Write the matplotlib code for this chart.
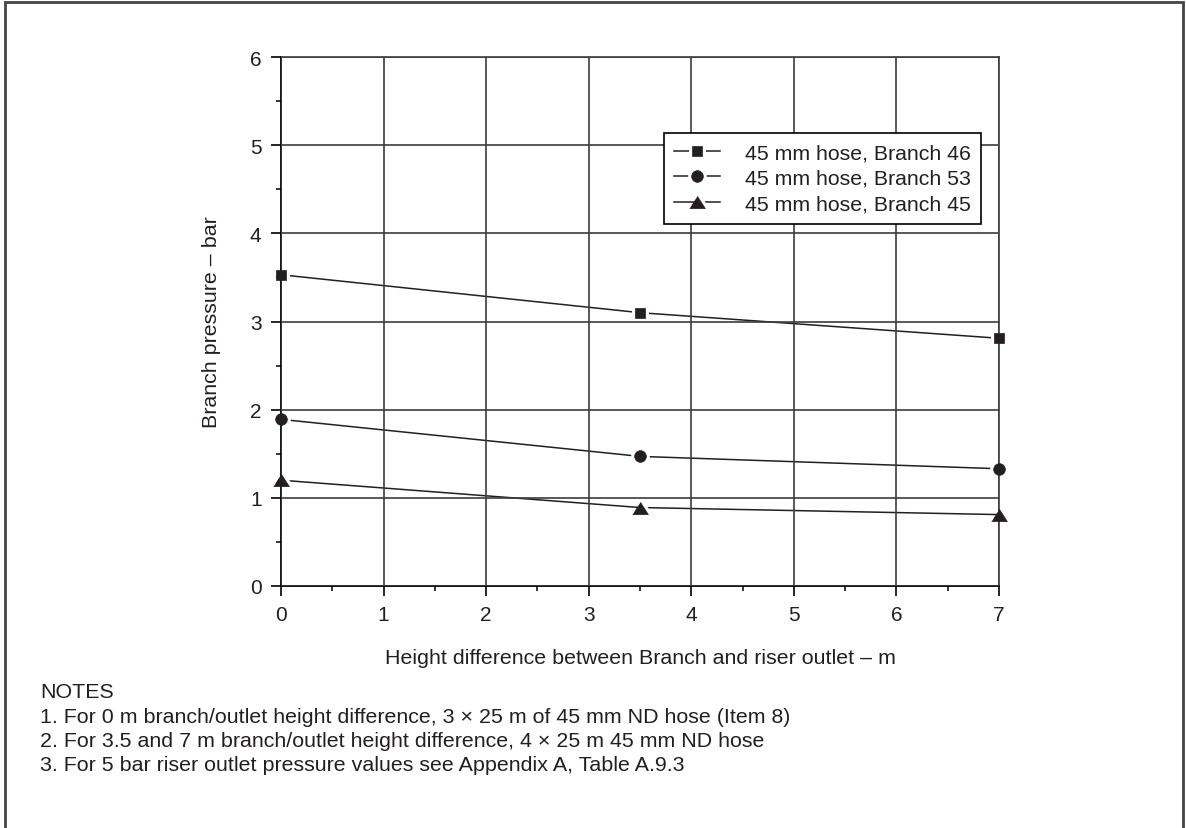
import matplotlib.pyplot as plt
from matplotlib.patches import Rectangle
from matplotlib.ticker import MultipleLocator

# data
height_diff = [0, 3.5, 7]
branch_46 = [3.53, 3.10, 2.81]
branch_53 = [1.89, 1.47, 1.33]
branch_45 = [1.20, 0.89, 0.81]

labels = ['45 mm hose, Branch 46', '45 mm hose, Branch 53', '45 mm hose, Branch 45']
x_ticks = [0, 1, 2, 3, 4, 5, 6, 7]
y_ticks = [0, 1, 2, 3, 4, 5, 6]

notes = [
    'NOTES',
    '1. For 0 m branch/outlet height difference, 3 \u00d7 25 m of 45 mm ND hose (Item 8)',
    '2. For 3.5 and 7 m branch/outlet height difference, 4 \u00d7 25 m 45 mm ND hose',
    '3. For 5 bar riser outlet pressure values see Appendix A, Table A.9.3',
]

ink = '#231f20'
grid_col = '#3c3c3c'
tri = [(-1, -0.78), (1, -0.78), (0, 0.78)]
markers = [('s', 7.7), ('o', 8.4), (tri, 11.3)]

plt.rcParams['font.family'] = ['Liberation Sans', 'DejaVu Sans']
plt.rcParams['text.color'] = ink

W, H = 1186, 829
fig = plt.figure(figsize=(W / 100, H / 100), dpi=100)

# outer frame of the figure panel (open at the bottom)
fig.patches.append(Rectangle((5 / W, -0.05), 1178 / W, 1 - 3 / H + 0.05,
                             transform=fig.transFigure, fill=False,
                             edgecolor='#444444', linewidth=2))

ax = fig.add_axes([281 / W, 1 - 587 / H, 718 / W, 529 / H])

handles = []
for (mk, ms), ys in zip(markers, [branch_46, branch_53, branch_45]):
    # white halo around the markers leaves a gap between line and marker
    halo, = ax.plot(height_diff, ys, color=ink, lw=1.1, marker=mk, ms=ms,
                    mfc=ink, mec='white', mew=5, zorder=2, clip_on=False)
    dot, = ax.plot(height_diff, ys, ls='none', marker=mk, ms=ms, mfc=ink,
                   mec=ink, mew=0.5, zorder=3, clip_on=False)
    handles.append((halo, dot))

ax.set_xlim(0, 7)
ax.set_ylim(0, 6)
ax.set_xticks(x_ticks)
ax.set_yticks(y_ticks)
ax.xaxis.set_minor_locator(MultipleLocator(0.5))
ax.yaxis.set_minor_locator(MultipleLocator(0.5))
ax.grid(True, which='major', color=grid_col, lw=1.2)
ax.set_axisbelow(False)

for side in ['left', 'bottom']:
    ax.spines[side].set_color('black')
    ax.spines[side].set_linewidth(1.3)
for side in ['top', 'right']:
    ax.spines[side].set_color(grid_col)
    ax.spines[side].set_linewidth(1.2)

ax.tick_params(which='major', direction='out', length=7, width=1.2,
               color='black', labelsize=15, labelcolor=ink, pad=7)
ax.tick_params(which='minor', direction='out', length=3.5, width=1.1,
               color='black')
ax.tick_params(top=False, right=False, which='both')

ax.set_xlabel('Height difference between Branch and riser outlet \u2013 m',
              fontsize=15.4, color=ink)
ax.set_ylabel('Branch pressure \u2013 bar', fontsize=15.4, color=ink)
ax.xaxis.set_label_coords(0.5, -0.118)
ax.yaxis.set_label_coords(-0.083, 0.5)

leg = ax.legend(handles, labels, loc='upper right',
                bbox_to_anchor=(0.975, 0.857), fontsize=15.3,
                frameon=True, fancybox=False, framealpha=1,
                edgecolor='black', handlelength=2.15, handletextpad=1.15,
                labelspacing=0.3, borderpad=0.5, borderaxespad=0)
leg.get_frame().set_linewidth(1.2)
leg.set_zorder(5)

for i, line in enumerate(notes):
    fig.text(40 / W, 1 - (693 + 24.3 * i) / H, line, fontsize=15.4,
             va='center', ha='left', color=ink)

fig.savefig('out.png', dpi=100)
